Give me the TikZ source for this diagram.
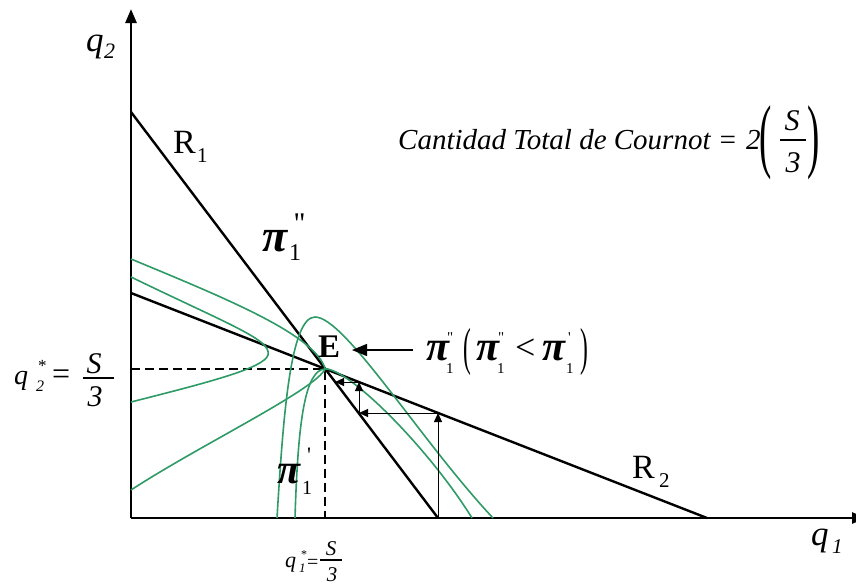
\documentclass[tikz,border=0pt]{standalone}
\usepackage{fontspec}
\setmainfont{Liberation Serif}
\usetikzlibrary{arrows.meta,intersections}
\definecolor{isogreen}{RGB}{46,154,102}
\newcommand\myfs[1]{\fontsize{#1}{#1}\selectfont}
\newcommand\bigparen[2]{\scalebox{0.45}[1]{\myfs{#1}#2}}
\begin{document}
\begin{tikzpicture}[x=1pt,y=-1pt,
  axis/.style={line width=2.6pt},
  resp/.style={line width=2.4pt},
  iso/.style={line width=1.6pt, draw=isogreen},
  dashline/.style={line width=2.4pt, dash pattern=on 9pt off 5pt},
  stepar/.style={line width=1pt, -{Triangle[length=9pt,width=8pt]}},
  lbl/.style={inner sep=0pt, anchor=base west},
  ctr/.style={inner sep=0pt, anchor=base},
  fracbar/.style={line width=1.1pt}]
\useasboundingbox (0,0) rectangle (856,587);
% axes
\coordinate (O) at (131,518);
\coordinate (ytop) at (131,9);
\coordinate (xend) at (866,518);
\draw[axis,-{Triangle[length=14pt,width=11pt]}] (O) -- (ytop);
\draw[axis,-{Triangle[length=14pt,width=11pt]}] (O) -- (xend);
% reaction functions
\coordinate (r1a) at (131,112);
\coordinate (r1b) at (438,518);
\coordinate (r2a) at (131,293);
\coordinate (r2b) at (707,518);
\draw[resp,name path=r1] (r1a) -- (r1b);
\draw[resp,name path=r2] (r2a) -- (r2b);
\path[name intersections={of=r1 and r2, by=E}];
% dashed
\draw[dashline] (E -| O) -- (E) -- (E |- O);
% green iso-profit curves
\draw[iso] (131,277) .. controls (230,325) and (272,340) .. (268,355)
           .. controls (264,368) and (210,382) .. (131,402);
\draw[iso] (131,259) .. controls (230,300) and (315,335) .. (E)
           .. controls (315,390) and (200,445) .. (131,490);
\draw[iso] (295,518) .. controls (298,420) and (305,370) .. (E)
           .. controls (350,369) and (430,450) .. (472,518);
\draw[iso] (277,518) .. controls (283,420) and (290,317) .. (315,317)
           .. controls (345,317) and (420,440) .. (493,518);
% cobweb arrows
\coordinate (s1) at (438,413);
\coordinate (s2) at (359,413);
\coordinate (s3) at (359,382);
\coordinate (s4) at (335,382);
\draw[stepar] (r1b) -- (s1);
\draw[stepar] (s1) -- (s2);
\draw[stepar] (s2) -- (s3);
\draw[stepar] (s3) -- (s4);
% label arrow
\coordinate (at) at (413,350);
\coordinate (ah) at (352,350);
\draw[line width=1.3pt,-{Triangle[length=15pt,width=12pt]}] (at) -- (ah);
% axis labels
\node[lbl] (q2) at (86,51) {\myfs{35}\itshape q};
\node[lbl] (q2s) at (104,58) {\myfs{22}\itshape 2};
\node[lbl] (q1) at (811,545) {\myfs{35}\itshape q};
\node[lbl] (q1s) at (832,553) {\myfs{21}\itshape 1};
% R labels
\node[lbl] (R1) at (173,153) {\myfs{34}R};
\node[lbl] (R1s) at (197,162) {\myfs{21}1};
\node[lbl] (R2) at (632,478) {\myfs{34}R};
\node[lbl] (R2s) at (659,487) {\myfs{21}2};
% E
\node[lbl] (Elbl) at (318,357) {\myfs{33}\bfseries E};
% pi labels
\node[lbl] (pA) at (262,251) {\myfs{46}\bfseries\itshape π};
\node[lbl] (pAs) at (289,260) {\myfs{24}1};
\node[lbl] (pAp) at (294,233) {\myfs{30}\textquotesingle\textquotesingle};
\node[lbl] (pB) at (277,483) {\myfs{42}\bfseries\itshape π};
\node[lbl] (pBs) at (302,494) {\myfs{20}1};
\node[lbl] (pBp) at (307,462) {\myfs{22}\textquotesingle};
% right label
\node[lbl] (pC) at (426,360) {\myfs{42}\bfseries\itshape π};
\node[lbl] (pCs) at (446,373) {\myfs{15}1};
\node[lbl] (pCp) at (447,342) {\myfs{15}\textquotedbl};
\node[lbl] (lp) at (463,364) {\bigparen{52}{(}};
\node[lbl] (pD) at (476,360) {\myfs{42}\bfseries\itshape π};
\node[lbl] (pDs) at (497,373) {\myfs{15}1};
\node[lbl] (pDp) at (498,342) {\myfs{15}\textquotedbl};
\node[lbl] (lt) at (515,359) {\myfs{36}<};
\node[lbl] (pE) at (542,360) {\myfs{42}\bfseries\itshape π};
\node[lbl] (pEs) at (566,373) {\myfs{15}1};
\node[lbl] (pEp) at (568,342) {\myfs{15}\textquotesingle};
\node[lbl] (rp) at (580,364) {\bigparen{52}{)}};
% left label q2* = S/3
\node[lbl] (lq) at (14,384) {\myfs{28}\itshape q};
\node[lbl] (lqst) at (38,371) {\myfs{17}*};
\node[lbl] (lqs) at (36,391) {\myfs{16}\itshape 2};
\node[lbl] (leq) at (52,384) {\myfs{32}=};
\node[ctr] (lS) at (94,373) {\myfs{30}\itshape S};
\node[ctr] (l3) at (95,406) {\myfs{30}\itshape 3};
\draw[fracbar] (83,378) -- (114,378);
% bottom label q1* = S/3
\node[lbl] (bq) at (285,567) {\myfs{22}\itshape q};
\node[lbl] (bqst) at (301,558) {\myfs{12}*};
\node[lbl] (bqs) at (299,572) {\myfs{13}\itshape 1};
\node[lbl] (beq) at (307,568) {\myfs{20}=};
\node[ctr] (bS) at (331,555) {\myfs{21}\itshape S};
\node[ctr] (b3) at (332,581) {\myfs{21}\itshape 3};
\draw[fracbar] (320,560) -- (342,560);
% formula
\node[lbl] (ftxt) at (398,149) {\myfs{29}\itshape Cantidad Total de Cournot =};
\node[lbl] (f2) at (746,149) {\myfs{29}\itshape 2};
\node[lbl] (flp) at (759,162) {\bigparen{82}{(}};
\node[ctr] (fS) at (792,130) {\myfs{30}\itshape S};
\node[ctr] (f3) at (793,172) {\myfs{30}\itshape 3};
\draw[fracbar] (780,140) -- (806,140);
\node[lbl] (frp) at (807,162) {\bigparen{82}{)}};
\end{tikzpicture}
\end{document}
